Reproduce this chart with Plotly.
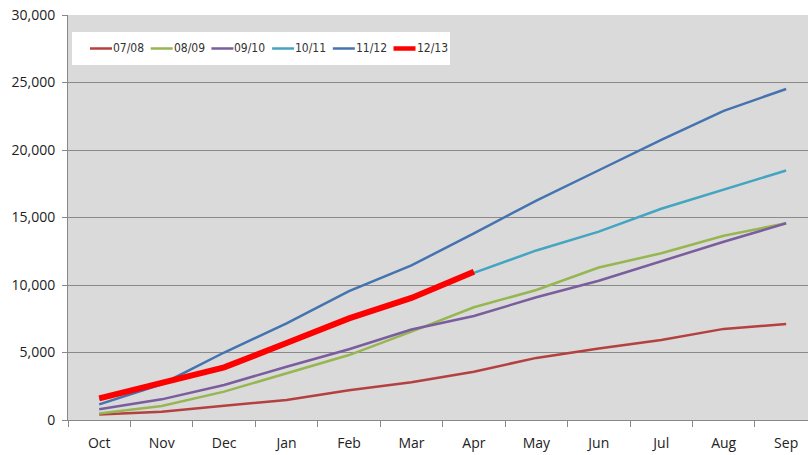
import plotly.graph_objects as go

months = ['Oct', 'Nov', 'Dec', 'Jan', 'Feb', 'Mar', 'Apr', 'May', 'Jun', 'Jul', 'Aug', 'Sep']

s0708 = [400, 620, 1050, 1480, 2200, 2800, 3580, 4600, 5300, 5930, 6750, 7110]
s0809 = [490, 1040, 2100, 3460, 4810, 6550, 8350, 9630, 11300, 12350, 13650, 14570]
s0910 = [790, 1530, 2590, 3950, 5240, 6700, 7700, 9090, 10320, 11750, 13200, 14570]
s1011 = [1550, 2680, 3850, 5620, 7480, 8980, 10900, 12560, 13950, 15650, 17050, 18480]
s1112 = [1160, 2650, 5000, 7150, 9550, 11450, 13830, 16250, 18500, 20750, 22900, 24520]
s1213 = [1600, 2720, 3900, 5700, 7530, 9040, 10990]

series = [
    ('07/08', s0708, '#b4413f', 2.5),
    ('08/09', s0809, '#97b651', 2.5),
    ('09/10', s0910, '#7a5d9e', 2.5),
    ('10/11', s1011, '#44a5c2', 2.5),
    ('11/12', s1112, '#4473b0', 2.5),
    ('12/13', s1213, '#ff0000', 6),
]

W, H = 808, 455
L, R, T, B = 68, 0, 15, 35

def px(x):   # page pixel -> paper x
    return (x - L) / (W - L - R)

def py(y):   # page pixel -> paper y
    return 1 - (y - T) / (H - T - B)

fig = go.Figure()
for name, vals, color, width in series:
    fig.add_trace(go.Scatter(x=months[:len(vals)], y=vals, name=name, mode='lines',
                             line=dict(color=color, width=width), showlegend=False))

# legend box drawn by hand (Excel style: short lines, tight spacing)
fig.add_shape(type='rect', xref='paper', yref='paper', x0=px(72), x1=px(450), y0=py(65), y1=py(32),
              fillcolor='white', line=dict(width=0), layer='above')
for i, (name, vals, color, width) in enumerate(series):
    x0 = 90 + i * 60.7
    fig.add_shape(type='line', xref='paper', yref='paper', x0=px(x0), x1=px(x0 + 22),
                  y0=py(48.5), y1=py(48.5), line=dict(color=color, width=min(width, 4.5)), layer='above')
    fig.add_annotation(xref='paper', yref='paper', x=px(x0 + 21), y=py(48.5), text=name,
                       showarrow=False, xanchor='left', yanchor='middle',
                       font=dict(size=12, family='DejaVu Sans Condensed, Liberation Sans', color='#333'))

fig.update_layout(
    width=W, height=H,
    margin=dict(l=L, r=R, t=T, b=B),
    paper_bgcolor='white',
    plot_bgcolor='#dadada',
    font=dict(family='Open Sans, Liberation Sans, sans-serif', size=14, color='#222'),
)

fig.update_xaxes(range=[-0.5, 11.35], tickson='boundaries', ticks='outside', ticklen=6,
                 tickcolor='#888', showline=True, linecolor='#888', linewidth=1,
                 showgrid=False, fixedrange=True, ticklabelstandoff=10)
fig.update_yaxes(range=[0, 30000], dtick=5000, tickformat=',', ticks='outside', ticklen=5,
                 tickcolor='#888', showline=True, linecolor='#888', gridcolor='#8a8a8a',
                 gridwidth=1, zeroline=False, fixedrange=True, ticklabelstandoff=4)

fig.write_html('out.html', config={'displayModeBar': False},
               post_script="document.body.style.margin='0';document.body.style.overflow='hidden';")
